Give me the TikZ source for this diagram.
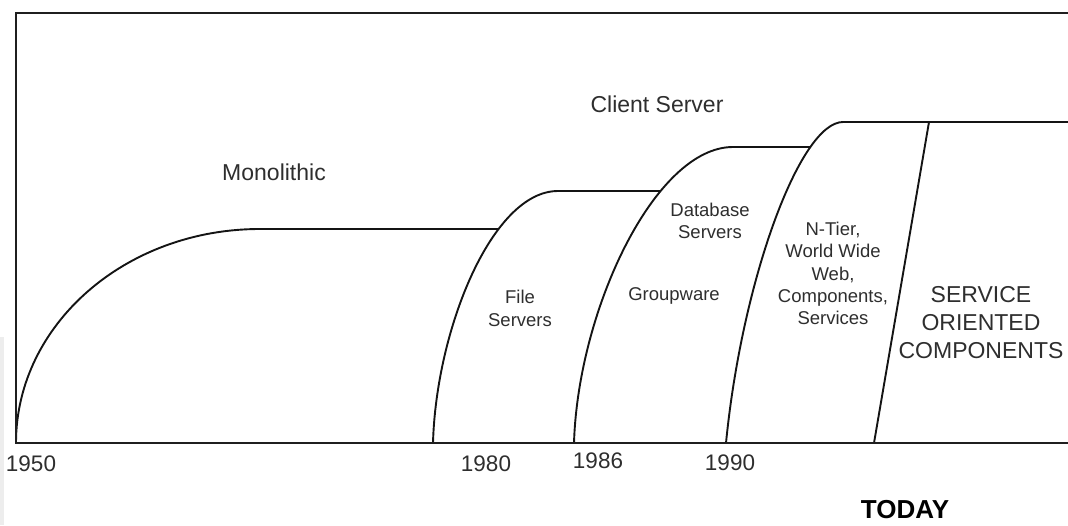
\documentclass[tikz,border=0pt]{standalone}
\usepackage{fontspec}
\setmainfont{Liberation Sans}
\usetikzlibrary{intersections}
\begin{document}
\begin{tikzpicture}[x=1pt,y=-1pt,
  frameline/.style={line width=2.2pt, black!88, line join=miter},
  eraline/.style={line width=1.9pt, black!92},
  lbl/.style={inner sep=0pt, text=black!82, align=center},
  bigtxt/.style={lbl, font=\fontsize{23}{28}\selectfont},
  smalltxt/.style={lbl, font=\fontsize{18.5}{22.3}\selectfont},
  yeartxt/.style={lbl, font=\fontsize{22.5}{26}\selectfont},
  todaytxt/.style={inner sep=0pt, text=black, font=\fontsize{26}{30}\selectfont\bfseries}]
  \useasboundingbox (0,0) rectangle (1068,525);
  \fill[black!7] (0,337) rectangle (3.5,525);

  % curve paths (for intersections)
  \path[name path=fscurve] (433,443) .. controls (436,330) and (492,191) .. (558,191);
  \path[name path=gwcurve] (574,443) .. controls (578,310) and (655,147) .. (733,147);
  \path[name path=ntcurve] (726,443) .. controls (742,280) and (800,122) .. (843,122);
  \path[name path=hmono] (16,229) -- (1068,229);
  \path[name path=hfs] (16,191) -- (1068,191);
  \path[name path=hgw] (16,147) -- (1068,147);
  \path[name intersections={of=fscurve and hmono, by=imono}];
  \path[name intersections={of=gwcurve and hfs, by=ifs}];
  \path[name intersections={of=ntcurve and hgw, by=igw}];
  \coordinate (ntend) at (1068,122);
  \coordinate (socbot) at (874,443);
  \coordinate (soctop) at (929,122);

  % eras
  \draw[eraline] (16,443) .. controls (16,325) and (125,229) .. (260,229) -- (imono);
  \draw[eraline] (433,443) .. controls (436,330) and (492,191) .. (558,191) -- (ifs);
  \draw[eraline] (574,443) .. controls (578,310) and (655,147) .. (733,147) -- (igw);
  \draw[eraline] (726,443) .. controls (742,280) and (800,122) .. (843,122) -- (ntend);
  \draw[eraline] (socbot) -- (soctop);

  % frame
  \draw[frameline] (1068,13) -- (16,13) -- (16,443) -- (1068,443);

  % labels
  \node[bigtxt] (mono) at (274,172) {Monolithic};
  \node[bigtxt] (cs) at (657,104) {Client Server};
  \node[smalltxt] (fs) at (520,308.5) {File\\Servers};
  \node[smalltxt] (db) at (710,221) {Database\\Servers};
  \node[smalltxt] (gw) at (674,296) {Groupware};
  \node[smalltxt] (nt) at (833,273.5) {N-Tier,\\World Wide\\Web,\\Components,\\Services};
  \node[bigtxt] (soc) at (981,323) {SERVICE\\ORIENTED\\COMPONENTS};
  \node[yeartxt] (y50) at (31,464) {1950};
  \node[yeartxt] (y80) at (486,464) {1980};
  \node[yeartxt] (y86) at (598,461) {1986};
  \node[yeartxt] (y90) at (730,463) {1990};
  \node[todaytxt] (today) at (905,510) {TODAY};
\end{tikzpicture}
\end{document}
